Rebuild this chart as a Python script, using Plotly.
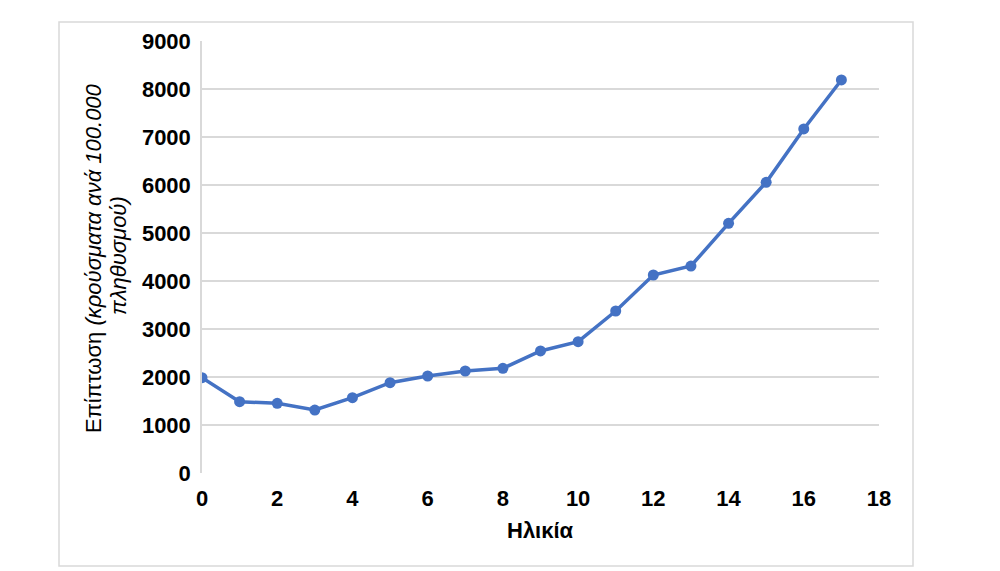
import plotly.graph_objects as go

ages = list(range(18))
incidence = [1985, 1486, 1452, 1312, 1569, 1882, 2021, 2125, 2181, 2542,
             2736, 3375, 4125, 4312, 5201, 6056, 7167, 8188]
x_ticks = [0, 2, 4, 6, 8, 10, 12, 14, 16, 18]
y_ticks = [0, 1000, 2000, 3000, 4000, 5000, 6000, 7000, 8000, 9000]
y_title_line1 = "Επίπτωση <i>(κρούσματα ανά 100.000</i>"
y_title_line2 = "<i>πληθυσμού)</i>"
x_title = "<b>Ηλικία</b>"

FONT = "Liberation Sans, Arial, sans-serif"
BLUE = "#4472C4"

fig = go.Figure()
fig.add_trace(go.Scatter(
    x=ages, y=incidence, mode="lines+markers",
    line=dict(color=BLUE, width=3.5),
    marker=dict(color=BLUE, size=11),
    hoverinfo="x+y", showlegend=False,
))

# page-pixel positions of the plot area (page body has an 8px margin)
OFF = 8
L, R, T, B = 202, 879, 41, 473
W, H = 1000 - OFF, 571 - OFF

def px_x(p):
    return (p - L) / (R - L)

def px_y(p):
    return (B - p) / (B - T)

fig.update_layout(
    width=W, height=H,
    margin=dict(l=L - OFF, r=W + OFF - R, t=T - OFF, b=H + OFF - B, pad=0),
    paper_bgcolor="white", plot_bgcolor="white",
    font=dict(family=FONT, color="black"),
    xaxis=dict(
        range=[0, 18], tickvals=x_ticks, ticktext=[str(v) for v in x_ticks],
        showgrid=False, zeroline=False, showline=False,
        ticks="outside", ticklen=0, ticklabelstandoff=6,
        tickfont=dict(family=FONT, size=22, color="black", weight="bold"),
    ),
    yaxis=dict(
        range=[0, 9000], tickvals=y_ticks, ticktext=[str(v) for v in y_ticks],
        showgrid=True, gridcolor="#d9d9d9", gridwidth=1.5,
        zeroline=False, showline=True, linecolor="#d9d9d9", linewidth=1.5,
        ticks="outside", ticklen=0, ticklabelstandoff=5,
        tickfont=dict(family=FONT, size=22, color="black", weight="bold"),
    ),
)

# outer chart border
fig.add_shape(type="rect", xref="paper", yref="paper",
              x0=px_x(59), x1=px_x(913), y0=px_y(566), y1=px_y(22),
              line=dict(color="#d9d9d9", width=1.5), fillcolor="rgba(0,0,0,0)",
              layer="below")

fig.add_annotation(text=y_title_line1, xref="paper", yref="paper",
                   x=px_x(93), y=px_y(258), xanchor="center", yanchor="middle",
                   textangle=-90, showarrow=False,
                   font=dict(family=FONT, size=22, color="black"))
fig.add_annotation(text=y_title_line2, xref="paper", yref="paper",
                   x=px_x(118), y=px_y(256), xanchor="center", yanchor="middle",
                   textangle=-90, showarrow=False,
                   font=dict(family=FONT, size=22, color="black"))
fig.add_annotation(text=x_title, xref="paper", yref="paper",
                   x=0.5, y=px_y(530), xanchor="center", yanchor="middle",
                   showarrow=False,
                   font=dict(family=FONT, size=22, color="black"))

fig.write_html("out.html")
